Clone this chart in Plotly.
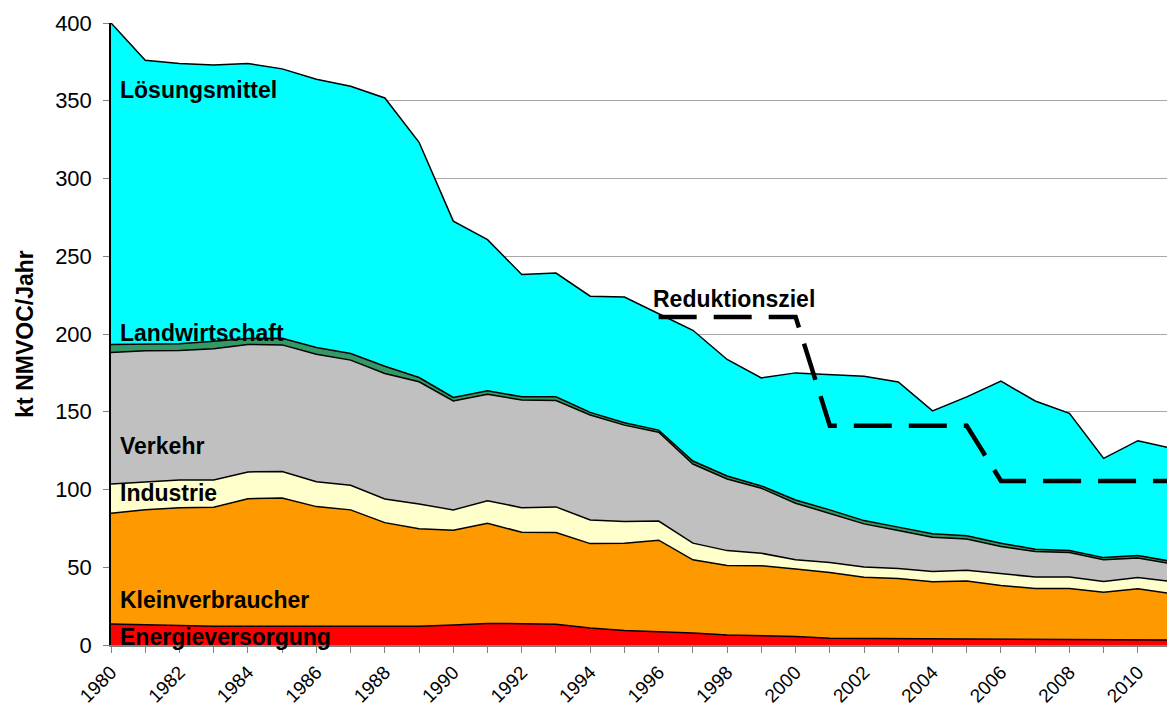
import plotly.graph_objects as go

years = list(range(1980, 2012))

energieversorgung = [13.5, 13.0, 12.4, 12.0, 12.0, 12.0, 12.0, 12.0, 12.0, 12.0,
                     12.8, 13.9, 13.7, 13.3, 10.9, 9.4, 8.5, 7.7, 6.4, 5.8,
                     5.5, 4.3, 4.2, 4.0, 3.8, 3.6, 3.6, 3.6, 3.6, 3.2, 3.2, 3.2]
kleinverbraucher = [71.2, 73.9, 75.8, 76.6, 82.1, 82.6, 77.0, 74.9, 66.7, 62.7,
                    61.0, 64.4, 58.8, 59.0, 54.3, 56.0, 58.9, 47.1, 44.7, 45.2,
                    43.3, 42.3, 39.4, 38.8, 36.8, 37.5, 34.7, 32.7, 32.7, 30.8, 32.9, 29.7]
industrie = [18.9, 18.1, 17.9, 17.5, 17.2, 16.9, 16.0, 15.8, 15.2, 16.0,
             13.1, 14.5, 15.8, 16.5, 15.2, 14.0, 12.3, 10.7, 9.6, 8.0,
             6.0, 6.4, 6.5, 6.4, 6.7, 7.0, 7.5, 7.4, 7.4, 6.8, 7.3, 7.9]
verkehr = [84.5, 84.2, 83.3, 84.4, 82.0, 81.5, 82.0, 80.5, 80.7, 78.6,
           70.1, 68.5, 69.2, 68.4, 67.5, 62.0, 57.1, 50.9, 46.1, 41.8,
           36.4, 31.7, 27.8, 24.4, 22.0, 20.0, 17.5, 16.4, 15.8, 14.0, 12.5, 11.4]
landwirtschaft = [5.2, 4.1, 4.3, 4.9, 3.8, 4.3, 4.3, 4.3, 4.7, 2.7,
                  2.2, 2.2, 2.1, 2.4, 1.7, 1.5, 1.4, 1.9, 1.9, 1.5,
                  2.1, 2.2, 2.1, 2.2, 2.2, 2.1, 2.2, 1.5, 1.2, 1.4, 1.6, 1.5]
loesungsmittel = [206.7, 182.7, 180.3, 177.6, 176.9, 173.2, 172.5, 171.8, 172.5, 151.3,
                  113.4, 97.2, 78.6, 79.6, 74.7, 80.9, 74.8, 84.1, 74.9, 69.5,
                  81.7, 87.1, 92.9, 93.4, 79.1, 89.4, 104.2, 95.3, 88.3, 63.8, 73.9, 72.8]

ziel_years = [1996, 2000, 2001, 2005, 2006, 2011]
ziel_values = [211, 211, 141, 141, 105.5, 105.5]

series = [
    ("Energieversorgung", energieversorgung, "#FF0000"),
    ("Kleinverbraucher", kleinverbraucher, "#FF9900"),
    ("Industrie", industrie, "#FFFFCC"),
    ("Verkehr", verkehr, "#C0C0C0"),
    ("Landwirtschaft", landwirtschaft, "#339966"),
    ("Lösungsmittel", loesungsmittel, "#00FFFF"),
]

label_pos = {
    "Lösungsmittel": 357,
    "Landwirtschaft": 200.5,
    "Verkehr": 128,
    "Industrie": 97.8,
    "Kleinverbraucher": 29.1,
    "Energieversorgung": 5.3,
}

fig = go.Figure()
for name, vals, col in series:
    fig.add_trace(go.Scatter(
        x=years, y=vals, name=name, mode="lines", stackgroup="one",
        fillcolor=col, line=dict(color="black", width=1.5),
        showlegend=False,
    ))

fig.add_trace(go.Scatter(
    x=ziel_years, y=ziel_values, mode="lines", name="Reduktionsziel",
    line=dict(color="black", width=4.5, dash="38px,17px"),
    showlegend=False,
))

font_family = "Liberation Sans, Arial, sans-serif"
for name, yv in label_pos.items():
    fig.add_annotation(x=1980.2, y=yv, xref="x", yref="y", text=f"<b>{name}</b>",
                       showarrow=False, xanchor="left", yanchor="middle",
                       font=dict(family=font_family, size=23, color="black"))
fig.add_annotation(x=1995.78, y=222.5, xref="x", yref="y", text="<b>Reduktionsziel</b>",
                   showarrow=False, xanchor="left", yanchor="middle",
                   font=dict(family=font_family, size=23, color="black"))

fig.update_layout(
    width=1167, height=708,
    margin=dict(l=111, r=0, t=23, b=63),
    plot_bgcolor="white", paper_bgcolor="white",
    font=dict(family=font_family, size=22, color="black"),
)
fig.update_xaxes(
    range=[1980, 2010.85], tickvals=list(range(1980, 2011, 2)),
    tickangle=-45, ticks="outside", ticklen=6, tickcolor="#808080",
    showline=True, linecolor="#808080", linewidth=1.5,
    showgrid=False, zeroline=False, automargin=False, ticklabelstandoff=1,
    minor=dict(dtick=1, tick0=1980, ticks="outside", ticklen=6, tickcolor="#808080", showgrid=False),
    tickfont=dict(size=19),
)
fig.update_yaxes(
    range=[0, 400], dtick=50, ticks="outside", ticklen=6, tickcolor="#808080",
    showline=True, linecolor="black", linewidth=1.5, ticklabelstandoff=7,
    showgrid=True, gridcolor="#A8A8A8", gridwidth=1, zeroline=False, automargin=False,
    title=dict(text="<b>kt NMVOC/Jahr</b>", font=dict(size=23), standoff=15),
    tickfont=dict(size=22),
)

post = ("document.body.style.margin='0';document.body.style.overflow='hidden';"
        "document.documentElement.style.overflow='hidden';")
fig.write_html("out.html", post_script=post, config={"displayModeBar": False})
